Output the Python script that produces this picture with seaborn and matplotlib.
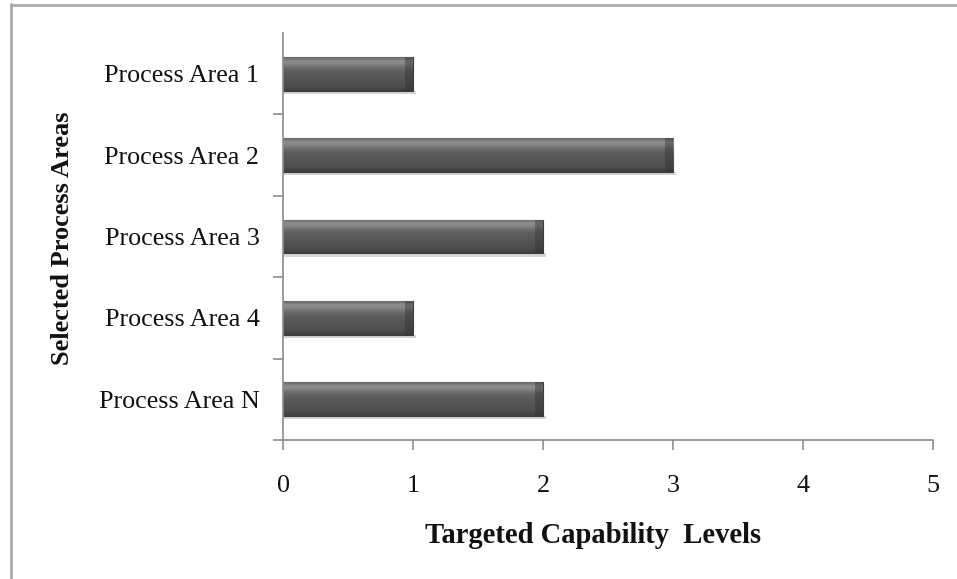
import numpy as np
import pandas as pd
import matplotlib
matplotlib.use("Agg")
import matplotlib.pyplot as plt
from matplotlib.patches import Rectangle
import seaborn as sns

categories = ["Process Area 1", "Process Area 2", "Process Area 3", "Process Area 4", "Process Area N"]
levels = [1, 3, 2, 1, 2]
x_ticks = [0, 1, 2, 3, 4, 5]

sns.set_theme(style="white")
plt.rcParams["font.family"] = ["Liberation Serif", "DejaVu Serif"]

df = pd.DataFrame({"area": categories, "level": levels})

fig = plt.figure(figsize=(9.57, 5.79), dpi=100)
ax = fig.add_axes([283/957, 1-440/579, (933-283)/957, (440-33)/579])

sns.barplot(data=df, y="area", x="level", orient="h", color="#585858",
            width=0.415, ax=ax, edgecolor="#3c3c3c", linewidth=0.8, saturation=1)

# bevel-like gradient on each bar
grad = np.array([0.42, 0.56, 0.55, 0.48, 0.42, 0.38, 0.36, 0.35, 0.34, 0.33, 0.32, 0.31, 0.29, 0.25])[:, None]
for p in ax.patches:
    x0, y0 = p.get_x(), p.get_y()
    w, h = p.get_width(), p.get_height()
    # soft shadow
    ax.add_patch(Rectangle((x0, y0 + h), w + 0.02, 0.04, color="#d5d5d5", zorder=p.get_zorder() - 0.1, lw=0))
    im = ax.imshow(grad, cmap="gray", vmin=0, vmax=1, aspect="auto",
                   extent=(x0, x0 + w, y0 + h, y0), zorder=p.get_zorder() + 0.1,
                   interpolation="bicubic")
    im.set_clip_path(p)
    # right end bevel
    ax.add_patch(Rectangle((x0 + w - 0.06, y0), 0.06, h, color="#2f2f2f", alpha=0.4,
                           zorder=p.get_zorder() + 0.2, lw=0))

ax.set_xlim(0, 5)
ax.set_ylim(len(categories) - 0.5, -0.5)
ax.set_xticks(x_ticks)
ax.set_xticklabels([str(t) for t in x_ticks])
ax.set_yticks(range(len(categories)))
ax.set_yticks(np.arange(-0.5, len(categories), 1.0)[1:], minor=True)

for s in ["top", "right"]:
    ax.spines[s].set_visible(False)
for s in ["left", "bottom"]:
    ax.spines[s].set_color("#8c8c8c")
    ax.spines[s].set_linewidth(1.2)

fs = 18.8
ax.tick_params(axis="y", which="major", length=0, pad=17, labelsize=fs, labelcolor="#111111")
ax.tick_params(axis="y", which="minor", length=7, width=1.2, color="#8c8c8c", direction="out", left=True)
ax.tick_params(axis="x", which="major", length=7, width=1.2, color="#8c8c8c", direction="out",
               bottom=True, pad=18, labelsize=fs, labelcolor="#111111")

ax.set_xlabel("Targeted Capability  Levels", fontsize=20.6, fontweight="bold", color="#111111")
ax.xaxis.set_label_coords((593 - 283) / 650, -(522 - 440) / 407)
ax.set_ylabel("Selected Process Areas", fontsize=19, fontweight="bold", color="#111111")
ax.yaxis.set_label_coords(-(283 - 74) / 650, (440 - 238) / 407)

# outer frame (left and top visible)
fig.add_artist(plt.Line2D([11/957, 11/957], [0, 1-4/579], transform=fig.transFigure, color="#aaaaaa", lw=2))
fig.add_artist(plt.Line2D([11/957, 1], [1-4.5/579, 1-4.5/579], transform=fig.transFigure, color="#aaaaaa", lw=2))

fig.savefig("out.png", dpi=100)
